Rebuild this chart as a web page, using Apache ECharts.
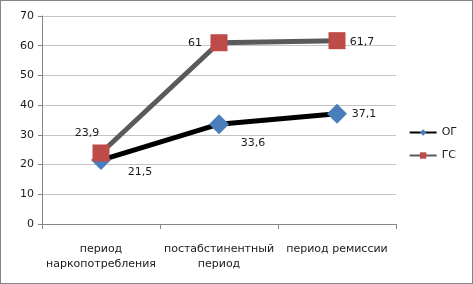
<!DOCTYPE html>
<html>
<head>
<meta charset="utf-8">
<script src="https://cdn.jsdelivr.net/npm/echarts@6/dist/echarts.min.js"></script>
<style>
html, body { margin: 0; padding: 0; background: #fff; }
#chart { width: 471px; height: 282px; border: 1px solid #868686; }
</style>
</head>
<body>
<div id="chart"></div>
<script>
var categories = ['период\nнаркопотребления', 'постабстинентный\nпериод', 'период ремиссии'];
var ogValues = [21.5, 33.6, 37.1];
var gsValues = [23.9, 61, 61.7];
var ogLabelPos = [[39, 12], [34, 19], [27, 0]];
var gsLabelPos = [[-14, -20], [-24, 0], [25, 1]];

function fmt(v) {
	return String(v).replace('.', ',');
}

function buildData(values, offsets) {
	var out = [];
	for (var i = 0; i < values.length; i++) {
		out.push({
			value: values[i],
			label: { offset: offsets[i] }
		});
	}
	return out;
}

var chart = echarts.init(document.getElementById('chart'));
var textStyle = { fontFamily: 'DejaVu Sans', fontSize: 11, color: '#1a1a1a' };
var labelStyle = {
	show: true,
	position: 'inside',
	formatter: function (p) { return fmt(p.value); },
	fontFamily: 'DejaVu Sans', fontSize: 11, color: '#1a1a1a'
};

var option = {
	animation: false,
	grid: { left: 41, right: 76, top: 15, bottom: 59 },
	legend: {
		orient: 'vertical',
		right: 10,
		top: 121,
		itemWidth: 27,
		itemHeight: 8,
		itemGap: 12,
		textStyle: textStyle,
		data: ['ОГ', 'ГС']
	},
	xAxis: {
		type: 'category',
		data: categories,
		boundaryGap: true,
		axisLine: { lineStyle: { color: '#868686' } },
		axisTick: { show: true, length: 5, lineStyle: { color: '#868686' } },
		axisLabel: Object.assign({ margin: 18, lineHeight: 15, interval: 0 }, textStyle)
	},
	yAxis: {
		type: 'value',
		min: 0,
		max: 70,
		interval: 10,
		axisLine: { show: true, lineStyle: { color: '#868686' } },
		axisTick: { show: true, length: 4, lineStyle: { color: '#868686' } },
		axisLabel: Object.assign({ margin: 8 }, textStyle),
		splitLine: { lineStyle: { color: '#c4c4c4' } }
	},
	series: [
		{
			name: 'ОГ',
			type: 'line',
			data: buildData(ogValues, ogLabelPos),
			symbol: 'diamond',
			symbolSize: 20,
			lineStyle: { color: '#000', width: 5 },
			itemStyle: { color: '#4a7ebb' },
			label: labelStyle
		},
		{
			name: 'ГС',
			type: 'line',
			data: buildData(gsValues, gsLabelPos),
			symbol: 'rect',
			symbolSize: 17,
			lineStyle: { color: '#5a5a5a', width: 5 },
			itemStyle: { color: '#be4b48' },
			label: labelStyle
		}
	]
};
chart.setOption(option);
</script>
</body>
</html>
